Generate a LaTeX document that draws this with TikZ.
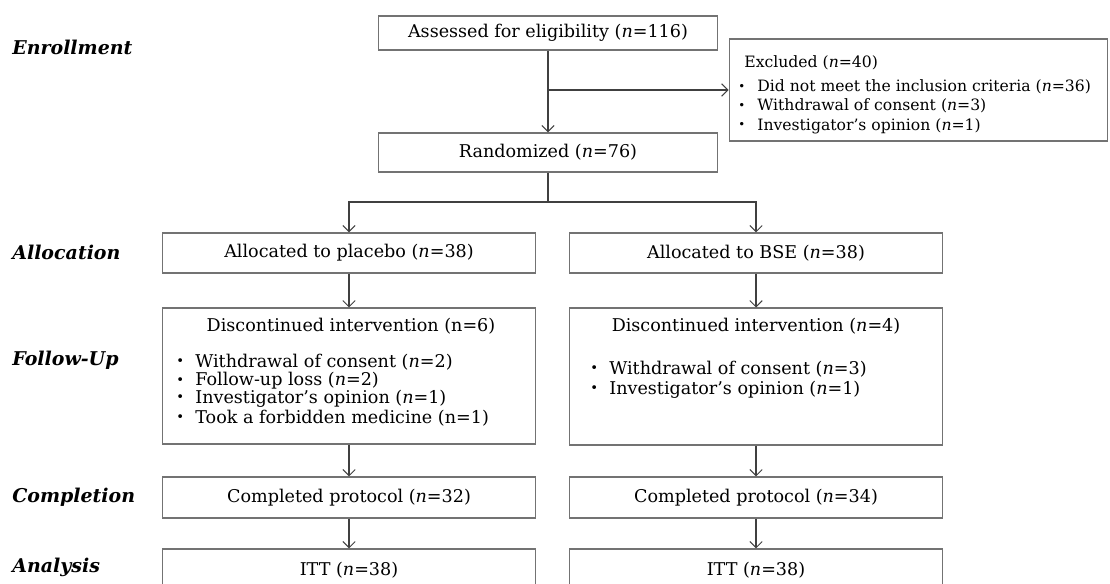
\documentclass[tikz,border=0pt]{standalone}
\usepackage{fontspec}
\setmainfont{DejaVu Serif}
\usetikzlibrary{arrows.meta}
\newcommand{\ncount}[1]{(\textit{n}=#1)}
\newcommand{\bul}{\makebox[0.38cm][l]{\raisebox{0.2ex}{\scalebox{0.75}{•}}}}

\begin{document}
\begin{tikzpicture}[x=0.02cm, y=-0.02cm, >={Straight Barb[length=3.5pt,width=7pt]}]
        \tikzstyle{box}=[draw=black!55, line width=0.6pt, rectangle, minimum width=7.48cm, inner sep=0pt, font=\fontsize{10}{12}\selectfont]
        \tikzstyle{stage}=[anchor=west, inner sep=0pt, font=\fontsize{10.8}{12}\selectfont\bfseries\itshape]
        \tikzstyle{item}=[anchor=west, inner sep=0pt, font=\fontsize{10}{12}\selectfont]
        \tikzstyle{small item}=[item, font=\fontsize{8.9}{11}\selectfont]
        \tikzstyle{title}=[inner sep=0pt, font=\fontsize{10}{12}\selectfont]
        \tikzstyle{link}=[->, draw=black!75, line width=0.6pt]
        % \draw[draw=black!20] (0,0) grid[step=50] (1110,583);
        \clip (0,0) rectangle (1110,583);

        \node[stage] (enrollment) at (12, 47) {Enrollment};
        \node[stage] (allocation) at (12, 252) {Allocation};
        \node[stage] (follow-up) at (12, 360) {Follow-Up};
        \node[stage] (completion) at (12, 497) {Completion};
        \node[stage] (analysis) at (12, 567) {Analysis};

        \node[box, minimum width=6.8cm, minimum height=0.68cm] (assess) at (548, 33) {Assessed for eligibility \ncount{116}};
        \node[box, minimum width=7.58cm, minimum height=2.04cm] (excl) at (918.5, 90) {};
        \node[small item] (excl-title) at (744, 63) {Excluded \ncount{40}};
        \node[small item] (excl-a) at (738, 87) {\bul Did not meet the inclusion criteria \ncount{36}};
        \node[small item] (excl-b) at (738, 106) {\bul Withdrawal of consent \ncount{3}};
        \node[small item] (excl-c) at (738, 126) {\bul Investigator's opinion \ncount{1}};
        \node[box, minimum width=6.8cm, minimum height=0.78cm] (rand) at (548, 152.5) {Randomized \ncount{76}};
        \coordinate (split) at (548, 202);

        \node[box, minimum height=0.8cm] (placebo) at (349, 253) {Allocated to placebo \ncount{38}};
        \node[box, minimum height=0.8cm] (bse) at (756, 253) {Allocated to BSE \ncount{38}};

        \node[box, minimum height=2.72cm] (disc-left) at (349, 376) {};
        \node[title] (disc-left-title) at (351, 326) {Discontinued intervention (n=6)};
        \node[item] (disc-left-a) at (176, 362) {\bul Withdrawal of consent \ncount{2}};
        \node[item] (disc-left-b) at (176, 381) {\bul Follow-up loss \ncount{2}};
        \node[item] (disc-left-c) at (176, 399) {\bul Investigator’s opinion \ncount{1}};
        \node[item] (disc-left-d) at (176, 418) {\bul Took a forbidden medicine (n=1)};

        \node[box, minimum height=2.74cm] (disc-right) at (756, 376.5) {};
        \node[title] (disc-right-title) at (756, 326) {Discontinued intervention \ncount{4}};
        \node[item] (disc-right-a) at (590, 369) {\bul Withdrawal of consent \ncount{3}};
        \node[item] (disc-right-b) at (590, 390) {\bul Investigator's opinion \ncount{1}};

        \node[box, minimum height=0.82cm] (comp-left) at (349, 497.5) {Completed protocol \ncount{32}};
        \node[box, minimum height=0.82cm] (comp-right) at (756, 497.5) {Completed protocol \ncount{34}};
        \node[box, minimum height=0.84cm] (itt-left) at (349, 570) {ITT \ncount{38}};
        \node[box, minimum height=0.84cm] (itt-right) at (756, 570) {ITT \ncount{38}};

        \draw[link] (assess) -- (rand);
        \draw[link] (assess.south |- excl.west) -- (excl.west);
        \draw[draw=black!75, line width=0.6pt] (rand) -- (split);
        \draw[link] (split) -| (placebo);
        \draw[link] (split) -| (bse);
        \draw[link] (placebo) -- (disc-left);
        \draw[link] (bse) -- (disc-right);
        \draw[link] (disc-left) -- (comp-left);
        \draw[link] (disc-right) -- (comp-right);
        \draw[link] (comp-left) -- (itt-left);
        \draw[link] (comp-right) -- (itt-right);
    \end{tikzpicture}
\end{document}
